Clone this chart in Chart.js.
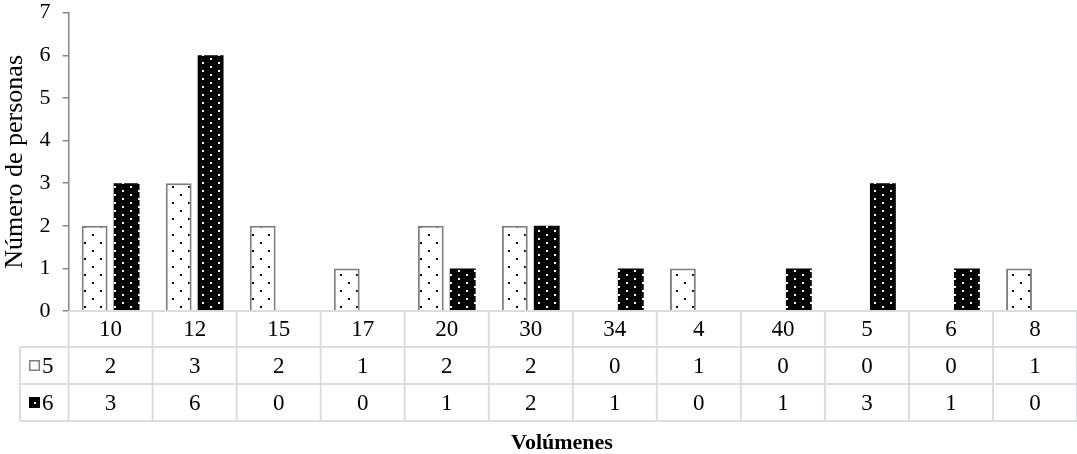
<!DOCTYPE html>
<html>
<head>
<meta charset="utf-8">
<script src="https://cdn.jsdelivr.net/npm/chart.js@4/dist/chart.umd.min.js"></script>
<style>
  html, body { margin: 0; padding: 0; background: #fff; }
  canvas { display: block; }
</style>
</head>
<body>
<canvas id="c" width="1077" height="454"></canvas>
<script>
const categories = ['10', '12', '15', '17', '20', '30', '34', '4', '40', '5', '6', '8'];
const seriesNames = ['5', '6'];
const series5 = [2, 3, 2, 1, 2, 2, 0, 1, 0, 0, 0, 1];
const series6 = [3, 6, 0, 0, 1, 2, 1, 0, 1, 3, 1, 0];
const yTicks = [0, 1, 2, 3, 4, 5, 6, 7];
const yTitle = 'Número de personas';
const xTitle = 'Volúmenes';

const FONT = "'Liberation Serif', 'Times New Roman', serif";
const GRID = '#d9dde3';

function makePattern(bg, fg, w, h, dots) {
  const p = document.createElement('canvas');
  p.width = w; p.height = h;
  const g = p.getContext('2d');
  g.fillStyle = bg; g.fillRect(0, 0, w, h);
  g.fillStyle = fg;
  dots.forEach(([x, y]) => g.fillRect(x, y, 2, 2));
  return document.getElementById('c').getContext('2d').createPattern(p, 'repeat');
}
const patWhite = makePattern('#ffffff', '#000000', 16, 16, [[4, 2], [12, 10]]);
const patBlack = makePattern('#000000', '#ffffff', 16, 8, [[2, 2], [10, 6]]);

const tablePlugin = {
  id: 'dataTable',
  afterDraw(chart) {
    const ctx = chart.ctx;
    const xs = chart.scales.x;
    const area = chart.chartArea;
    const n = categories.length;
    const cw = (area.right - area.left) / n;
    const rows = [area.bottom, 347, 384, 421];
    const leftCol = 20;
    ctx.save();
    ctx.strokeStyle = GRID;
    ctx.lineWidth = 2;
    ctx.beginPath();
    ctx.moveTo(area.left, rows[0]); ctx.lineTo(area.right, rows[0]);
    for (let r = 1; r < rows.length; r++) {
      ctx.moveTo(leftCol, rows[r]); ctx.lineTo(area.right, rows[r]);
    }
    for (let i = 0; i <= n; i++) {
      const x = area.left + i * cw;
      ctx.moveTo(x, rows[0]); ctx.lineTo(x, rows[3]);
    }
    ctx.moveTo(leftCol, rows[1]); ctx.lineTo(leftCol, rows[3]);
    ctx.stroke();

    ctx.fillStyle = '#000';
    ctx.textAlign = 'center';
    ctx.textBaseline = 'middle';
    ctx.font = '23px ' + FONT;
    const vals = [series5, series6];
    categories.forEach((c, i) => {
      const x = xs.getPixelForValue(i);
      ctx.fillText(c, x, (rows[0] + rows[1]) / 2 + 1);
      vals.forEach((arr, s) => {
        ctx.fillText(String(arr[i]), x, (rows[s + 1] + rows[s + 2]) / 2 + 1);
      });
    });
    const pats = [patWhite, patBlack];
    seriesNames.forEach((name, s) => {
      const cy = (rows[s + 1] + rows[s + 2]) / 2;
      const kx = 29, ks = 11;
      ctx.fillStyle = pats[s];
      ctx.fillRect(kx, cy - ks / 2, ks, ks);
      if (s === 0) {
        ctx.strokeStyle = '#7f7f7f';
        ctx.lineWidth = 1.5;
        ctx.strokeRect(kx + 0.75, cy - ks / 2 + 0.75, ks - 1.5, ks - 1.5);
      }
      ctx.fillStyle = '#000';
      ctx.textAlign = 'left';
      ctx.fillText(name, kx + ks + 2, cy + 1);
      ctx.textAlign = 'center';
    });
    ctx.font = 'bold 22px ' + FONT;
    ctx.fillText(xTitle, 562, 443);
    ctx.restore();
  }
};

new Chart(document.getElementById('c'), {
  type: 'bar',
  data: {
    labels: categories,
    datasets: [
      {
        label: seriesNames[0],
        data: series5,
        backgroundColor: patWhite,
        borderColor: '#7f7f7f',
        borderWidth: (c) => (c.raw === 0 ? 0 : 2),
        borderSkipped: 'bottom'
      },
      {
        label: seriesNames[1],
        data: series6,
        backgroundColor: patBlack,
        borderColor: '#000',
        borderWidth: 0
      }
    ]
  },
  options: {
    responsive: false,
    animation: false,
    devicePixelRatio: 1,
    layout: { padding: { top: 12.7, bottom: 143, left: 0, right: 0 } },
    datasets: { bar: { categoryPercentage: 0.76, barPercentage: 0.81 } },
    plugins: { legend: { display: false }, tooltip: { enabled: false } },
    scales: {
      x: { display: false },
      y: {
        min: 0, max: 7,
        afterFit(s) { s.width = 68.6; s.paddingTop = 0; s.paddingBottom = 0; },
        afterBuildTicks(s) { s.ticks = yTicks.map(v => ({ value: v })); },
        border: { display: true, color: '#868686', width: 1.5 },
        grid: { display: true, drawOnChartArea: false, drawTicks: true, tickLength: 6, color: '#868686', lineWidth: 1.5 },
        ticks: { color: '#000', padding: 12, font: { family: FONT, size: 22 } },
        title: { display: true, text: yTitle, color: '#000', padding: { top: 0, bottom: 0 }, font: { family: FONT, size: 26 } }
      }
    }
  },
  plugins: [tablePlugin]
});
</script>
</body>
</html>
